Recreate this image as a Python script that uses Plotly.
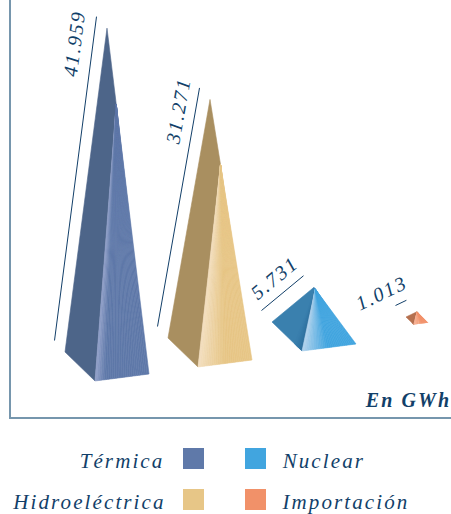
import math

import plotly.graph_objects as go

# Generation by source, GWh
names = ["Térmica", "Hidroeléctrica", "Nuclear", "Importación"]
values = [41959, 31271, 5731, 1013]
unit_label = "En GWh"

# Colours per source
dark_faces = ["#4d6589", "#a98f60", "#3a80ae", "#b5704f"]
dark_ridges = ["#4d6589", "#a98f60", "#2c6d9c", "#a9654a"]
swatches = ["#5f79a9", "#e7c687", "#41a5df", "#f19169"]
ridge_lights = ["#95a3cb", "#f3dfc0", "#b4d3ec", "#f8b79b"]
# Share of the lit face taken up by the highlight fading into the base colour
fade_shares = [0.2, 0.5, 0.48, 0.6]
INK = "#123f69"
FRAME = "#7696ad"
FONT = "Liberation Serif"

# Placement of each pyramid on the canvas, in pixels
left_x = [65, 168, 272, 406]
left_y = [352, 338, 322, 317]
base_scale = [1, 1, 1, 0.26]
# Where the lit face starts, as a fraction of the way down the apex-right edge
ridge_start = [0.22, 0.25, 0.03, 0.02]
label_centres = [(74, 44), (178, 111), (274, 278), (381, 293)]

W, H = 451, 514
PLOT_LEFT, PLOT_BOTTOM = 11, 417
GWH_PER_PX = 125.3
Y_TOP = PLOT_BOTTOM * GWH_PER_PX


def y_of(px):
    return (PLOT_BOTTOM - px) * GWH_PER_PX


def paper_x(px):
    return (px - PLOT_LEFT) / (W - PLOT_LEFT)


def paper_y(px):
    return 1 - px / PLOT_BOTTOM


def mix(a, b, t):
    ca = [int(a[i:i + 2], 16) for i in (1, 3, 5)]
    cb = [int(b[i:i + 2], 16) for i in (1, 3, 5)]
    return "#" + "".join(f"{round(p + (q - p) * t):02x}" for p, q in zip(ca, cb))


def poly(xs, ys, color):
    return go.Scatter(
        x=xs, y=ys, mode="lines", fill="toself", fillcolor=color,
        line=dict(color=color, width=0.6), hoverinfo="skip", showlegend=False,
    )


fig = go.Figure()
annotations = []
STRIPS = 28
DARK_STRIPS = 6

for i, value in enumerate(values):
    s = base_scale[i]
    lx, ly = left_x[i], y_of(left_y[i])
    fx, fy = lx + 30 * s, ly - 29 * s * GWH_PER_PX
    rx, ry = fx + 54 * s, fy + 7 * s * GWH_PER_PX
    ax, ay = (lx + rx) / 2, (ly + ry) / 2 + value
    kx = ax + (rx - ax) * ridge_start[i]
    ky = ay + (ry - ay) * ridge_start[i]

    # Shaded face, running from the apex down the left side
    fig.add_trace(poly([ax, kx, fx, lx, ax], [ay, ky, fy, ly, ay], dark_faces[i]))

    # Slight deepening of the shaded face next to the ridge
    if dark_ridges[i] != dark_faces[i]:
        for k in range(DARK_STRIPS):
            t0, t1 = 0.25 * k / DARK_STRIPS, 0.25 * (k + 1) / DARK_STRIPS
            color = mix(dark_ridges[i], dark_faces[i], (k + 0.5) / DARK_STRIPS)
            fig.add_trace(poly(
                [kx, fx + (lx - fx) * t0, fx + (lx - fx) * t1, kx],
                [ky, fy + (ly - fy) * t0, fy + (ly - fy) * t1, ky],
                color,
            ))

    # Lit face, fanned from the ridge so the highlight follows it
    for k in range(STRIPS):
        t0, t1 = k / STRIPS, (k + 1) / STRIPS
        shade = min(1.0, (t0 + t1) / 2 / fade_shares[i])
        color = mix(ridge_lights[i], swatches[i], shade)
        fig.add_trace(poly(
            [kx, fx + (rx - fx) * t0, fx + (rx - fx) * t1, kx],
            [ky, fy + (ry - fy) * t0, fy + (ry - fy) * t1, ky],
            color,
        ))

    # Measuring line running parallel to the left edge
    off_x, off_y = -10.5, 11.5 * GWH_PER_PX
    fig.add_trace(go.Scatter(
        x=[lx + off_x, ax + off_x], y=[ly + off_y, ay + off_y], mode="lines",
        line=dict(color=INK, width=1), hoverinfo="skip", showlegend=False,
    ))

    angle = -math.degrees(math.atan2((ay - ly) / GWH_PER_PX, ax - lx))
    cx, cy = label_centres[i]
    annotations.append(dict(
        x=cx, y=y_of(cy), xref="x", yref="y", text=f"{value:,}".replace(",", "."),
        textangle=angle, showarrow=False, xanchor="center", yanchor="middle",
        font=dict(family=FONT, size=20, color=INK, style="italic"),
    ))

annotations.append(dict(
    x=407.5, y=y_of(400), xref="x", yref="y", text=unit_label, showarrow=False,
    xanchor="center", yanchor="middle",
    font=dict(family=FONT, size=20, color=INK, style="italic", weight="bold"),
))

# Key below the chart: two columns of swatches with their names
key_rows = [461, 502]
key_cells = [
    (0, 183, 122, key_rows[0]),
    (1, 183, 89, key_rows[1]),
    (2, 245, 323, key_rows[0]),
    (3, 245, 345, key_rows[1]),
]
shapes = []
for idx, sx, text_x, row in key_cells:
    shapes.append(dict(
        type="rect", xref="paper", yref="paper", layer="above",
        x0=paper_x(sx), x1=paper_x(sx + 21),
        y0=paper_y(row + 8), y1=paper_y(row - 13),
        fillcolor=swatches[idx], line=dict(width=0),
    ))
    annotations.append(dict(
        x=paper_x(text_x), y=paper_y(row), xref="paper", yref="paper",
        text=names[idx], showarrow=False, xanchor="center", yanchor="middle",
        font=dict(family=FONT, size=21, color=INK, style="italic"),
    ))

axis_style = dict(
    showline=True, linecolor=FRAME, linewidth=1.5, showgrid=False,
    zeroline=False, showticklabels=False, ticks="", fixedrange=True,
)
fig.update_layout(
    width=W, height=H,
    margin=dict(l=PLOT_LEFT, r=0, t=0, b=H - PLOT_BOTTOM),
    paper_bgcolor="white", plot_bgcolor="white", showlegend=False,
    xaxis=dict(range=[PLOT_LEFT, W], **axis_style),
    yaxis=dict(range=[0, Y_TOP], **axis_style),
    annotations=annotations, shapes=shapes,
)

# Plotly has no letter-spacing option, so it is set on the drawn text
spacing = """
document.querySelectorAll('text.annotation-text').forEach(function (t) {
  t.style.letterSpacing = /^[0-9.]+$/.test(t.textContent) ? '1.9px' : '2.1px';
});
"""
fig.write_html("out.html", post_script=spacing, config={"displayModeBar": False})
